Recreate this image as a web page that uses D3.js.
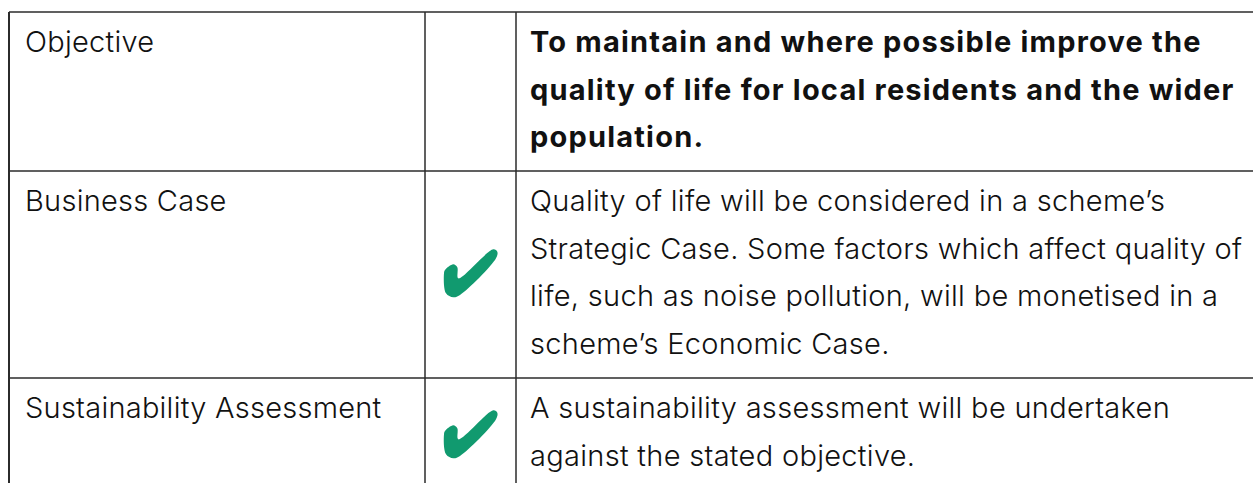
<!DOCTYPE html>
<html>
<head>
<meta charset="utf-8">
<script src="https://cdn.jsdelivr.net/npm/d3@7"></script>
<style>
body{margin:0;background:#fff}
</style>
</head>
<body>
<script>
const rowLabels=['Objective','Business Case','Sustainability Assessment']
const rowChecks=[false,true,true]
const rowBold=[true,false,false]
const rowLines=[
  ['To maintain and where possible improve the','quality of life for local residents and the wider','population.'],
  ['Quality of life will be considered in a scheme\u2019s','Strategic Case. Some factors which affect quality of','life, such as noise pollution, will be monetised in a','scheme\u2019s Economic Case.'],
  ['A sustainability assessment will be undertaken','against the stated objective.']
]
// check mark outline, in a 54x50 box
const checkShape=[[2,22],[10.3,16.3],[14.3,19.3],[15.3,30.3],[50.3,1.3],[54.3,3.7],[53,10.3],[17,47],[10.3,49.3],[3,45.3],[1,25.3]]

const width=1253
const height=483
const tableTop=12
const colX=[9,425,516]
const lineH=47.5
const rowH=[159,207,140]

const svg=d3.select('body').append('svg').attr('width',width).attr('height',height)

let rowTop=[tableTop]
rowH.forEach((h,i)=>rowTop.push(rowTop[i]+h))

const font='Inter, "Liberation Sans", sans-serif'

// grid lines
svg.selectAll('line.h').data(rowTop.slice(0,3)).enter().append('line')
  .attr('x1',colX[0]).attr('x2',width)
  .attr('y1',d=>d).attr('y2',d=>d)
  .attr('stroke','#2b2b2b').attr('stroke-width',1.5)
svg.selectAll('line.v').data(colX).enter().append('line')
  .attr('x1',d=>d).attr('x2',d=>d)
  .attr('y1',tableTop).attr('y2',height)
  .attr('stroke','#2b2b2b').attr('stroke-width',(d,i)=>i==0?2:1.5)

const rows=svg.selectAll('g.row').data(rowLabels).enter().append('g')
  .attr('transform',(d,i)=>'translate(0,'+rowTop[i]+')')

rows.append('text')
  .attr('x',25).attr('y',40)
  .style('font-family',font).style('font-size','29px').style('font-weight',300)
  .style('letter-spacing','0.25px').style('fill','#111')
  .text(d=>d)

rows.each(function(d,i){
  const g=d3.select(this)
  g.selectAll('text.body').data(rowLines[i]).enter().append('text')
    .attr('x',530).attr('y',(t,j)=>40+j*lineH)
    .style('font-family',font).style('font-size','29px')
    .style('font-weight',rowBold[i]?700:300)
    .style('letter-spacing',rowBold[i]?'1.2px':'0.3px')
    .style('fill','#111')
    .text(t=>t)
  if(rowChecks[i]){
    const cy=i==1?77:31
    g.append('path')
      .attr('transform','translate(443,'+cy+')')
      .attr('d',d3.line().curve(d3.curveCatmullRomClosed.alpha(0.5))(checkShape))
      .attr('fill','#119a6f')
  }
})
</script>
</body>
</html>
